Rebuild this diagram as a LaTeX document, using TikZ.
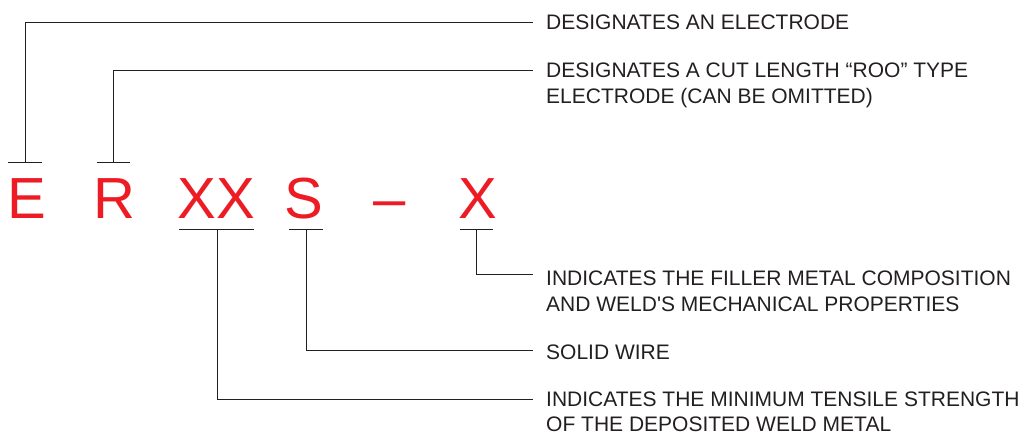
\documentclass[tikz,border=0pt]{standalone}
\usepackage{fontspec}
\setmainfont{Liberation Sans}
\usepackage{tikz}
\usetikzlibrary{positioning}
\definecolor{codered}{HTML}{ED1C24}
\definecolor{leadgray}{HTML}{231F20}

\begin{document}
\begin{tikzpicture}[x=1pt,y=-1pt,
 code/.style={text=codered,font=\fontsize{58}{58}\selectfont,inner sep=0pt,anchor=base},
 note/.style={text=leadgray,font=\fontsize{21}{26}\selectfont,align=left,inner sep=0pt,anchor=base west},
 lead/.style={draw=leadgray,line width=1pt}]
\useasboundingbox (0,0) rectangle (1026,436);
\node[code] (e) at (27,218) {E};
\node[code] (r) at (114,218) {R};
\node[code] (xx) at (216,218) {XX};
\node[code] (s) at (303.5,218) {S};
\node[code] (dash) at (390,218) {–};
\node[code] (x) at (477.5,218) {X};
\node[note] (elec) at (546,29.5) {DESIGNATES AN ELECTRODE};
\node[note] (roo) at (546,103.2) {DESIGNATES A CUT LENGTH “ROO” TYPE\\ELECTRODE (CAN BE OMITTED)};
\node[note] (comp) at (546,311.3) {INDICATES THE FILLER METAL COMPOSITION\\AND WELD\textquotesingle S MECHANICAL PROPERTIES};
\node[note] (wire) at (546,359.3) {SOLID WIRE};
\node[note,font=\fontsize{21}{25}\selectfont] (tens) at (546,431.5) {INDICATES THE MINIMUM TENSILE STRENGTH\\OF THE DEPOSITED WELD METAL};
\coordinate (ebar) at (25,162);
\coordinate (rbar) at (113,162);
\coordinate (xxbar) at (217,229.3);
\coordinate (sbar) at (306.7,229.3);
\coordinate (xbar) at (476.3,229.3);
\coordinate (eend) at (533,22.5);
\coordinate (rend) at (533,70.3);
\coordinate (xend) at (533,274.3);
\coordinate (send) at (533,350.5);
\coordinate (xxend) at (533,399.5);
\draw[lead] (8.3,162) -- (41.7,162);
\draw[lead] (96.7,162) -- (130,162);
\draw[lead] (179.3,229.3) -- (254.3,229.3);
\draw[lead] (289.3,229.3) -- (322.7,229.3);
\draw[lead] (460,229.3) -- (492.7,229.3);
\draw[lead] (ebar) |- (eend);
\draw[lead] (rbar) |- (rend);
\draw[lead] (xbar) |- (xend);
\draw[lead] (sbar) |- (send);
\draw[lead] (xxbar) |- (xxend);
\end{tikzpicture}
\end{document}
